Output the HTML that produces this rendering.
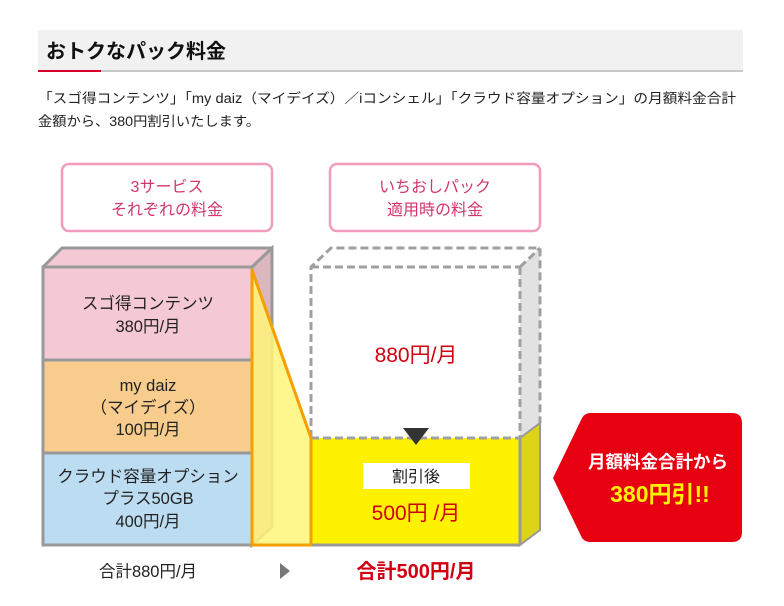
<!DOCTYPE html>
<html><head><meta charset="utf-8"><style>
html,body{margin:0;padding:0;background:#fff;width:784px;height:606px;overflow:hidden}
svg{display:block}
text{font-family:"Liberation Sans","Noto Sans CJK JP",sans-serif}
</style></head><body>
<svg width="784" height="606" viewBox="0 0 784 606" xmlns="http://www.w3.org/2000/svg">
<rect x="38" y="30" width="705" height="40" fill="#f1f1f1"/>
<rect x="38" y="70" width="705" height="2" fill="#c8c8c8"/>
<rect x="38" y="70" width="63" height="2" fill="#d6002a"/>
<text x="46" y="58" font-size="20" font-weight="bold" fill="#111">おトクなパック料金</text>
<text x="38" y="103" font-size="13.5" fill="#222" textLength="698" lengthAdjust="spacingAndGlyphs">「スゴ得コンテンツ」「my daiz（マイデイズ）／iコンシェル」「クラウド容量オプション」の月額料金合計</text>
<text x="38" y="126" font-size="13.5" fill="#222" textLength="222" lengthAdjust="spacingAndGlyphs">金額から、380円割引いたします。</text>

<rect x="62" y="164" width="210" height="67" rx="7" fill="#fff" stroke="#f29bbd" stroke-width="2.5"/>
<text x="167" y="192" font-size="16" fill="#d2366e" text-anchor="middle">3サービス</text>
<text x="167" y="215" font-size="16" fill="#d2366e" text-anchor="middle">それぞれの料金</text>
<rect x="330" y="164" width="210" height="67" rx="7" fill="#fff" stroke="#f29bbd" stroke-width="2.5"/>
<text x="435" y="192" font-size="16" fill="#d2366e" text-anchor="middle">いちおしパック</text>
<text x="435" y="215" font-size="16" fill="#d2366e" text-anchor="middle">適用時の料金</text>

<polygon points="43,267 62,248 272,248 252,267" fill="#f5c9d3" stroke="#999" stroke-width="3" stroke-linejoin="round"/>
<polygon points="252,267 272,248 272,527 252,545" fill="#d9b7bd" stroke="#999" stroke-width="3"/>
<rect x="43" y="267" width="209" height="93" fill="#f5c9d3"/>
<rect x="43" y="360" width="209" height="93" fill="#f8cc8c"/>
<rect x="43" y="453" width="209" height="92" fill="#bcdcf1"/>
<rect x="43" y="267" width="209" height="278" fill="none" stroke="#999" stroke-width="3"/>
<line x1="43" y1="360" x2="252" y2="360" stroke="#999" stroke-width="3"/>
<line x1="43" y1="453" x2="252" y2="453" stroke="#999" stroke-width="3"/>
<text x="148" y="309" font-size="16.5" fill="#222" text-anchor="middle">スゴ得コンテンツ</text>
<text x="148" y="332" font-size="16.5" fill="#222" text-anchor="middle">380円/月</text>
<text x="148" y="391" font-size="16.5" fill="#222" text-anchor="middle">my daiz</text>
<text x="148" y="413" font-size="16.5" fill="#222" text-anchor="middle">（マイデイズ）</text>
<text x="148" y="435" font-size="16.5" fill="#222" text-anchor="middle">100円/月</text>
<text x="148" y="482" font-size="16.5" fill="#222" text-anchor="middle">クラウド容量オプション</text>
<text x="148" y="504" font-size="16.5" fill="#222" text-anchor="middle">プラス50GB</text>
<text x="148" y="527" font-size="16.5" fill="#222" text-anchor="middle">400円/月</text>

<polygon points="520,267 540,248 540,423 520,438" fill="#e2e2e2"/>
<polygon points="520,438 540,423 540,530 520,545" fill="#ddd418" stroke="#999" stroke-width="2"/>
<rect x="311" y="438" width="209" height="107" fill="#fff200"/>
<line x1="311" y1="545" x2="520" y2="545" stroke="#999" stroke-width="3"/>
<line x1="520" y1="438" x2="520" y2="545" stroke="#999" stroke-width="3"/>
<g fill="none" stroke="#a0a0a0" stroke-width="3" stroke-dasharray="8,4">
<polyline points="311,438 311,267 331,248 540,248 540,423"/>
<line x1="311" y1="267" x2="520" y2="267"/>
<line x1="520" y1="267" x2="540" y2="248"/>
<line x1="520" y1="267" x2="520" y2="438"/>
<line x1="311" y1="438" x2="520" y2="438"/>
</g>
<polygon points="403,428 429,428 416,445" fill="#333"/>
<text x="416" y="362" font-size="21" fill="#d00010" text-anchor="middle">880円/月</text>
<rect x="363" y="463" width="107" height="26" fill="#fff"/>
<text x="416" y="482" font-size="16" fill="#222" text-anchor="middle">割引後</text>
<text x="416" y="520" font-size="21" fill="#d00010" text-anchor="middle">500円 /月</text>

<polygon points="252,270 311,438 311,545 252,545" fill="#fff57a" fill-opacity="0.85" stroke="#f5a000" stroke-width="3" stroke-linejoin="round"/>

<text x="148" y="577" font-size="16.5" fill="#222" text-anchor="middle">合計880円/月</text>
<polygon points="280,563 290,571 280,579" fill="#777"/>
<text x="416" y="578" font-size="20" font-weight="bold" fill="#d00010" text-anchor="middle">合計500円/月</text>

<path d="M586,413 H732 Q742,413 742,423 V532 Q742,542 732,542 H590 Q585,542 582,538 L553,478 L582,418 Q585,413 590,413 Z" fill="#e60012"/>
<text x="658" y="468" font-size="17.5" font-weight="bold" fill="#fff" text-anchor="middle">月額料金合計から</text>
<text x="660" y="502" font-size="23" font-weight="bold" fill="#fff200" text-anchor="middle">380円引!!</text>
</svg>
</body></html>
